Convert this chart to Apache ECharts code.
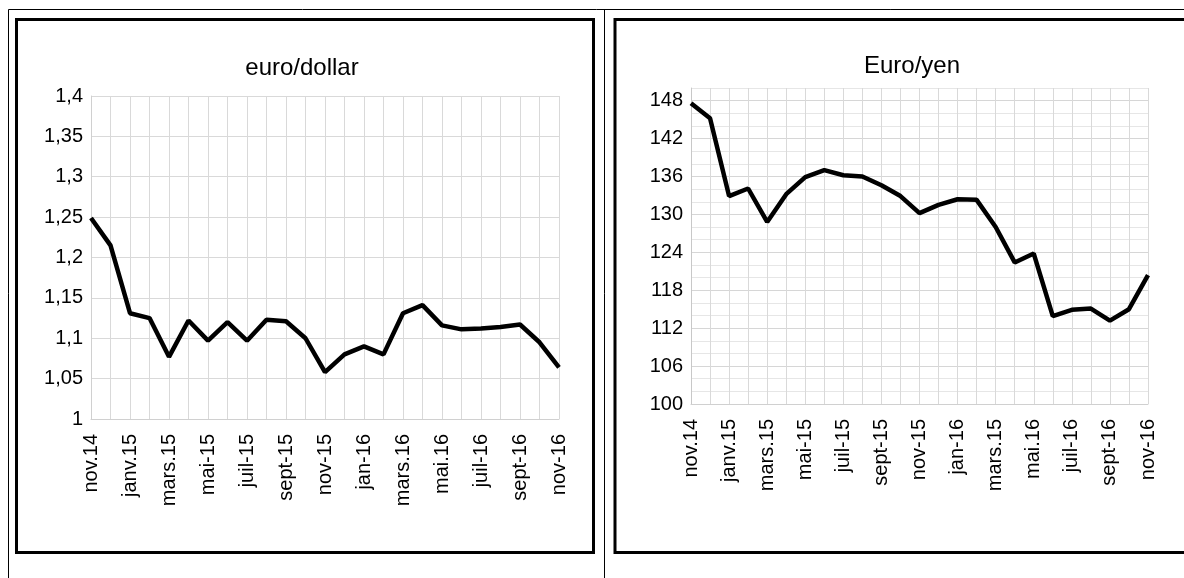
<!DOCTYPE html>
<html>
<head>
<meta charset="utf-8">
<script src="https://cdn.jsdelivr.net/npm/echarts@6/dist/echarts.min.js"></script>
<style>
html,body{margin:0;padding:0;background:#fff;}
#c{width:1184px;height:578px;}
</style>
</head>
<body>
<div id="c"></div>
<script>
// Categories (months nov.14 .. nov.16); only every other label is shown
const monthsDollar = ['nov.14','déc.14','janv.15','févr.15','mars.15','avr.15','mai-15','juin-15','juil-15','août-15','sept-15','oct-15','nov-15','déc-15','jan-16','févr-16','mars.16','avr.16','mai.16','juin-16','juil-16','août-16','sept-16','oct-16','nov-16'];
const monthsYen = ['nov.14','déc.14','janv.15','févr.15','mars.15','avr.15','mai-15','juin-15','juil-15','août-15','sept-15','oct-15','nov-15','déc-15','jan-16','févr-16','mars.15','avr.16','mai.16','juin-16','juil-16','août-16','sept-16','oct-16','nov-16'];

// Series values
const euroDollar = [1.249,1.215,1.131,1.125,1.077,1.122,1.097,1.120,1.097,1.123,1.121,1.100,1.058,1.080,1.090,1.080,1.131,1.141,1.116,1.111,1.112,1.114,1.117,1.095,1.064];
const euroYen = [147.6,145.2,132.9,134.1,128.8,133.2,135.9,137.0,136.2,136.0,134.6,132.9,130.2,131.5,132.4,132.3,128.0,122.4,123.8,113.9,114.9,115.1,113.2,115.0,120.4];

// Titles
const titleDollar = 'euro/dollar';
const titleYen = 'Euro/yen';

const FONT = '"Liberation Sans", Arial, sans-serif';
const chart = echarts.init(document.getElementById('c'), null, {renderer: 'canvas'});

function xAxisFor(gridIndex, cats) {
  return {
    type: 'category', gridIndex: gridIndex, data: cats, boundaryGap: false,
    axisLine: {show: true, lineStyle: {color: '#d0d0d0', width: 1}},
    axisTick: {show: false},
    axisLabel: {interval: 1, rotate: 90, color: '#000', fontSize: 20, fontFamily: FONT, margin: 15},
    splitLine: {show: true, interval: 0, lineStyle: {color: '#d9d9d9', width: 1}}
  };
}

chart.setOption({
  animation: false,
  backgroundColor: '#fff',
  graphic: [
    // thin outer frame
    {type: 'line', shape: {x1: 8.5, y1: 9.5, x2: 1184, y2: 9.5}, style: {stroke: '#000', lineWidth: 1}},
    {type: 'line', shape: {x1: 8.5, y1: 9.5, x2: 8.5, y2: 578}, style: {stroke: '#000', lineWidth: 1}},
    {type: 'line', shape: {x1: 604.5, y1: 9.5, x2: 604.5, y2: 578}, style: {stroke: '#000', lineWidth: 1}},
    // thick chart boxes
    {type: 'rect', shape: {x: 16.5, y: 19.5, width: 577, height: 533}, style: {fill: 'none', stroke: '#000', lineWidth: 3}},
    {type: 'rect', shape: {x: 615, y: 19.5, width: 600, height: 533}, style: {fill: 'none', stroke: '#000', lineWidth: 3}},
    // titles
    {type: 'text', x: 302, y: 68, style: {text: titleDollar, fill: '#000', font: '24px ' + FONT, textAlign: 'center', textVerticalAlign: 'middle'}},
    {type: 'text', x: 912, y: 66, style: {text: titleYen, fill: '#000', font: '24px ' + FONT, textAlign: 'center', textVerticalAlign: 'middle'}}
  ],
  grid: [
    {left: 91, top: 96, width: 468, height: 323},
    {left: 691, top: 88, width: 457, height: 316}
  ],
  xAxis: [xAxisFor(0, monthsDollar), xAxisFor(1, monthsYen)],
  yAxis: [
    {
      type: 'value', gridIndex: 0, min: 1, max: 1.4, interval: 0.05,
      axisLine: {show: true, lineStyle: {color: '#d0d0d0'}},
      axisTick: {show: false},
      axisLabel: {color: '#000', fontSize: 20, fontFamily: FONT, margin: 8,
        formatter: v => String(+v.toFixed(2)).replace('.', ',')},
      splitLine: {show: true, lineStyle: {color: '#d9d9d9', width: 1}}
    },
    {
      type: 'value', gridIndex: 1, min: 100, max: 150, interval: 2,
      axisLine: {show: true, lineStyle: {color: '#c8c8c8'}},
      axisTick: {show: false},
      axisLabel: {color: '#000', fontSize: 20, fontFamily: FONT, margin: 8,
        formatter: v => ((Math.round(v) - 100) % 6 === 0 && v < 150) ? String(Math.round(v)) : ''},
      splitLine: {show: true, lineStyle: {color: ['#d6d6d6', '#e6e6e6', '#e6e6e6'], width: 1}}
    }
  ],
  series: [
    {type: 'line', xAxisIndex: 0, yAxisIndex: 0, data: euroDollar, symbol: 'none',
     lineStyle: {color: '#000', width: 4.5}},
    {type: 'line', xAxisIndex: 1, yAxisIndex: 1, data: euroYen, symbol: 'none',
     lineStyle: {color: '#000', width: 4.5}}
  ]
});
</script>
</body>
</html>
